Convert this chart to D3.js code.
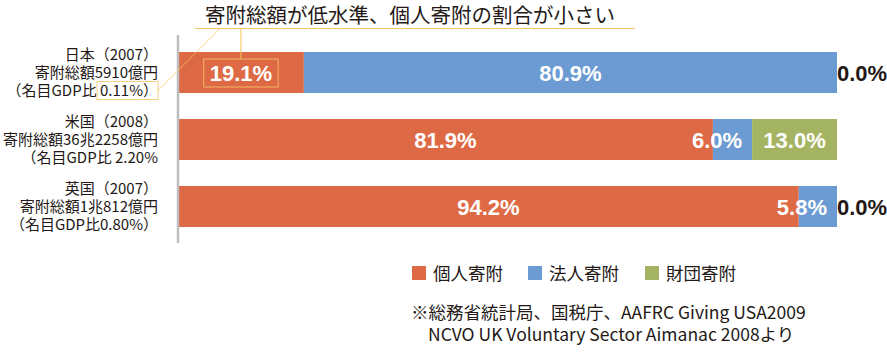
<!DOCTYPE html>
<html>
<head>
<meta charset="utf-8">
<script src="https://cdn.jsdelivr.net/npm/d3@7"></script>
<style>
  body { margin: 0; background: #fff; }
  svg { display: block; }
  .jp { font-family: "Noto Sans CJK JP", "Noto Sans", sans-serif; fill: #231815; }
  .val { font-family: "Liberation Sans", Arial, sans-serif; font-weight: 700; font-size: 22px; }
</style>
</head>
<body>
<div id="chart"></div>
<script>
// data
const countries = ["日本", "米国", "英国"];
const catLines = [
  ["日本（2007）", "寄附総額5910億円", "（名目GDP比 0.11%）"],
  ["米国（2008）", "寄附総額36兆2258億円", "（名目GDP比 2.20%"],
  ["英国（2007）", "寄附総額1兆812億円", "（名目GDP比0.80%）"]
];
const seriesNames = ["個人寄附", "法人寄附", "財団寄附"];
const individual = [19.1, 81.9, 94.2];
const corporate = [80.9, 6.0, 5.8];
const foundation = [0.0, 13.0, 0.0];
const title = "寄附総額が低水準、個人寄附の割合が小さい";
const source = ["※総務省統計局、国税庁、AAFRC Giving USA2009", "NCVO UK Voluntary Sector Aimanac 2008より"];

const COLORS = ["#DE6A45", "#6B9BD2", "#A5B462"];
const W = 887, H = 352;

const svg = d3.select("#chart").append("svg").attr("width", W).attr("height", H);

const rows = countries.map((c, i) => ({ c, i, vals: [individual[i], corporate[i], foundation[i]] }));
// 100% stacked: each row is scaled to its own total
const stack = d3.stack().keys([0, 1, 2]).value((d, k) => d.vals[k]).offset(d3.stackOffsetExpand)(rows);

const x = d3.scaleLinear().domain([0, 1]).range([178, 837]);
const y = d3.scaleBand().domain(countries).range([39, 240]).paddingInner(0.388).paddingOuter(0.194);

// bars
const gBars = svg.append("g");
stack.forEach((layer, k) => {
  gBars.selectAll(null).data(layer).join("rect")
    .attr("x", (d) => x(d[0])).attr("y", (d) => y(d.data.c))
    .attr("width", (d) => Math.max(0, x(d[1]) - x(d[0])))
    .attr("height", y.bandwidth())
    .attr("fill", COLORS[k]);
});

// axis line
svg.append("g").attr("transform", `translate(${x(0)},0)`)
  .call(d3.axisLeft(y).tickSize(0).tickFormat(""))
  .call((g) => g.select(".domain").attr("d", `M0,35V243`).attr("stroke", "#bdbdbd").attr("stroke-width", 2.5));

// category labels
rows.forEach((r) => {
  const cy = y(r.c) + y.bandwidth() / 2;
  const t = svg.append("text").attr("class", "jp").attr("text-anchor", "end").style("font-size", "15px");
  catLines[r.i].forEach((ln, j) => {
    t.append("tspan").attr("x", 158).attr("y", cy + (j - 1) * 18 + 5.5).text(ln);
  });
  r.labelNode = t.node();
});

// value labels
let label191;
stack.forEach((layer, k) => {
  layer.forEach((d) => {
    const v = d.data.vals[k];
    const cy = y(d.data.c) + y.bandwidth() / 2 + 8;
    const t = svg.append("text").attr("class", "val").attr("y", cy).text(v.toFixed(1) + "%");
    if (v === 0) {
      t.attr("x", x(1)).attr("fill", "#231815");
    } else {
      const w = t.node().getComputedTextLength();
      const cx = Math.min((x(d[0]) + x(d[1])) / 2, x(d[1]) - 10 - w / 2);
      t.attr("x", cx).attr("text-anchor", "middle").attr("fill", "#fff");
      if (d.data.i === 0 && k === 0) label191 = t.node();
    }
  });
});

// title with callouts
const ACC = "#F6C55B";
svg.append("text").attr("class", "jp").attr("x", 410).attr("y", 23).attr("text-anchor", "middle")
  .style("font-size", "20.5px").text(title);
svg.append("line").attr("x1", 195).attr("x2", 635).attr("y1", 28.5).attr("y2", 28.5)
  .attr("stroke", ACC).attr("stroke-width", 1.2);

const b = label191.getBBox();
const box1 = { x: b.x - 6, y: y(countries[0]) + 7, w: b.width + 12, h: y.bandwidth() - 13 };
svg.append("rect").attr("x", box1.x).attr("y", box1.y).attr("width", box1.w).attr("height", box1.h)
  .attr("fill", "none").attr("stroke", "#F2B465").attr("stroke-width", 1);
svg.append("line").attr("x1", box1.x + box1.w / 2).attr("x2", box1.x + box1.w / 2)
  .attr("y1", 28.5).attr("y2", box1.y).attr("stroke", ACC).attr("stroke-width", 1);

// box around GDP ratio
const ln = rows[0].labelNode.querySelectorAll("tspan")[2];
const idx = catLines[0][2].indexOf("0.11");
const sub = ln.getSubStringLength(idx, catLines[0][2].length - idx);
const bx = 158 - sub - 3, by = y(countries[0]) + y.bandwidth() / 2 + 18 - 9;
svg.append("rect").attr("x", bx).attr("y", by).attr("width", sub + 3).attr("height", 18)
  .attr("fill", "none").attr("stroke", "#F6CF80").attr("stroke-width", 1);
svg.append("line").attr("x1", 158).attr("y1", by + 9).attr("x2", 220).attr("y2", 28.5)
  .attr("stroke", ACC).attr("stroke-width", 0.8);

// legend
const legX = [412, 528, 645];
seriesNames.forEach((n, k) => {
  svg.append("rect").attr("x", legX[k]).attr("y", 266).attr("width", 14).attr("height", 14).attr("fill", COLORS[k]);
  svg.append("text").attr("class", "jp").attr("x", legX[k] + 21).attr("y", 280).style("font-size", "17.5px").text(n);
});

// source
svg.append("text").attr("class", "jp").attr("x", 411).attr("y", 319).style("font-size", "17.5px").text(source[0]);
svg.append("text").attr("class", "jp").attr("x", 428).attr("y", 341).style("font-size", "17.5px").text(source[1]);
</script>
</body>
</html>
